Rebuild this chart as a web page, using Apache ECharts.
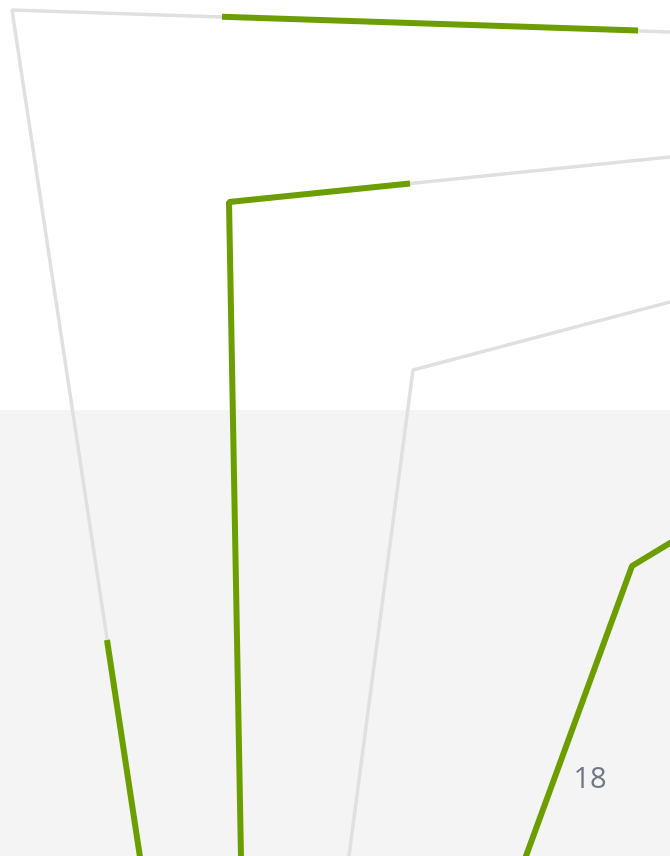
<!DOCTYPE html>
<html>
<head>
<meta charset="utf-8">
<script src="https://cdn.jsdelivr.net/npm/echarts@6/dist/echarts.min.js"></script>
<style>html,body{margin:0;padding:0;background:#fff}#c{width:670px;height:856px}</style>
</head>
<body>
<div id="c"></div>
<script>
// Gray (context) polylines
const grayA = [[700, 33], [12, 10], [145, 890]];
const grayB = [[700, 154], [229, 202], [241.6, 890]];
const grayC = [[700, 294], [413, 370], [344.5, 890]];
// Green (highlighted) segments
const greenA1 = [[222, 16.8], [638, 30.5]];
const greenA2 = [[107, 640], [145, 890]];
const greenB = [[410, 183.5], [229, 202], [241.6, 890]];
const greenD = [[700, 525], [632, 566], [513.6, 890]];
// Shaded band and label
const bandRange = [410, 856];
const labelPoint = [[590, 780]];
const labelText = '18';

const chart = echarts.init(document.getElementById('c'));
const GRAY = '#e0e0e0', GREEN = '#6c9e00';
function line(data, color, width, extra) {
  return Object.assign({
    type: 'line', data: data, symbol: 'none', smooth: false, silent: true,
    lineStyle: { color: color, width: width }, animation: false
  }, extra || {});
}
chart.setOption({
  animation: false,
  grid: { left: 0, right: 0, top: 0, bottom: 0 },
  xAxis: { type: 'value', min: 0, max: 670, show: false },
  yAxis: { type: 'value', min: 0, max: 856, inverse: true, show: false },
  series: [
    line(grayA, GRAY, 3.5, {
      markArea: {
        silent: true,
        itemStyle: { color: '#f4f4f4' },
        data: [[{ yAxis: bandRange[0] }, { yAxis: bandRange[1] }]]
      }
    }),
    line(grayB, GRAY, 3.5),
    line(grayC, GRAY, 3.5),
    line(greenA1, GREEN, 6),
    line(greenA2, GREEN, 6),
    line(greenB, GREEN, 6),
    line(greenD, GREEN, 6),
    {
      type: 'scatter', data: labelPoint, symbolSize: 0, silent: true,
      label: {
        show: true, position: 'inside', formatter: labelText,
        color: '#4f5866', fontSize: 29, fontFamily: 'Open Sans'
      }
    }
  ]
});
</script>
</body>
</html>
